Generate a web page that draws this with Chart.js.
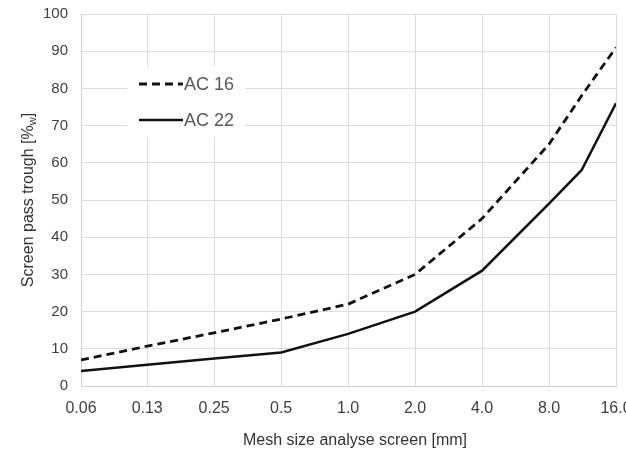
<!DOCTYPE html>
<html>
<head>
<meta charset="utf-8">
<script src="https://cdn.jsdelivr.net/npm/chart.js@4.4.1/dist/chart.umd.min.js"></script>
<style>
  html, body { margin: 0; padding: 0; background: #fff; overflow: hidden; }
  #wrap { width: 626px; height: 450px; overflow: hidden; position: relative; }
  canvas { position: absolute; left: 0; top: 0; }
</style>
</head>
<body>
<div id="wrap"><canvas id="c" width="640" height="450"></canvas></div>
<script>
// ---- data ----
const meshSizes = [0.063, 0.125, 0.25, 0.5, 1, 2, 4, 8, 11.2, 16];
const ac16 = [7, 10.7, 14.3, 18, 22, 30, 45, 65, 78, 91];
const ac22 = [4, 5.7, 7.4, 9, 14, 20, 31, 49, 58, 76];
const seriesNames = ['AC 16', 'AC 22'];
const tickValues = [0.063, 0.125, 0.25, 0.5, 1, 2, 4, 8, 16];
const tickLabels = ['0.06', '0.13', '0.25', '0.5', '1.0', '2.0', '4.0', '8.0', '16.0'];
const xTitle = 'Mesh size analyse screen [mm]';
const yTitleMain = 'Screen pass trough [%';
const yTitleSub = 'w';
const yTitleEnd = ']';

const FONT = '"Liberation Sans", Arial, sans-serif';

function pts(vals) { return meshSizes.map((m, i) => ({ x: m, y: vals[i] })); }

const overlay = {
  id: 'overlay',
  afterDatasetsDraw(chart) {
    const ctx = chart.ctx;
    ctx.save();
    // legend box (inside plot)
    ctx.fillStyle = '#ffffff';
    ctx.fillRect(127, 67, 118, 70);
    const rows = [84, 120];
    chart.data.datasets.forEach((ds, i) => {
      const y = rows[i];
      ctx.strokeStyle = ds.borderColor;
      ctx.lineWidth = ds.borderWidth;
      ctx.setLineDash(ds.borderDash || []);
      ctx.beginPath();
      ctx.moveTo(139, y);
      ctx.lineTo(183, y);
      ctx.stroke();
      ctx.setLineDash([]);
      ctx.fillStyle = '#595959';
      ctx.font = '18px ' + FONT;
      ctx.textAlign = 'left';
      ctx.textBaseline = 'middle';
      ctx.fillText(ds.label, 184, y + 1);
    });
    ctx.restore();
  },
  afterDraw(chart) {
    const ctx = chart.ctx;
    const ca = chart.chartArea;
    ctx.save();
    ctx.fillStyle = '#333333';
    // x title
    ctx.font = '16px ' + FONT;
    ctx.textAlign = 'center';
    ctx.textBaseline = 'middle';
    ctx.fillText(xTitle, 355, 441);
    // y title with subscript
    ctx.translate(29, (ca.top + ca.bottom) / 2);
    ctx.rotate(-Math.PI / 2);
    const fMain = '16px ' + FONT, fSub = '11px ' + FONT;
    ctx.font = fMain;
    const w1 = ctx.measureText(yTitleMain).width;
    const w3 = ctx.measureText(yTitleEnd).width;
    ctx.font = fSub;
    const w2 = ctx.measureText(yTitleSub).width;
    const total = w1 + w2 + w3;
    let x = -total / 2;
    ctx.textAlign = 'left';
    ctx.font = fMain;
    ctx.fillText(yTitleMain, x, 0); x += w1;
    ctx.font = fSub;
    ctx.fillText(yTitleSub, x, 4); x += w2;
    ctx.font = fMain;
    ctx.fillText(yTitleEnd, x, 0);
    ctx.restore();
  }
};

new Chart(document.getElementById('c'), {
  type: 'line',
  data: {
    datasets: [
      { label: seriesNames[0], data: pts(ac16), borderColor: '#111111', borderWidth: 2.8,
        borderDash: [8, 5], pointRadius: 0, tension: 0, fill: false },
      { label: seriesNames[1], data: pts(ac22), borderColor: '#111111', borderWidth: 2.5,
        pointRadius: 0, tension: 0, fill: false }
    ]
  },
  options: {
    responsive: false,
    maintainAspectRatio: false,
    animation: false,
    devicePixelRatio: 1,
    layout: { padding: { top: 14, right: 24, left: 0, bottom: 0 } },
    plugins: { legend: { display: false }, tooltip: { enabled: false } },
    scales: {
      x: {
        type: 'logarithmic',
        min: meshSizes[0],
        max: meshSizes[meshSizes.length - 1],
        afterBuildTicks(scale) { scale.ticks = tickValues.map(v => ({ value: v })); },
        afterFit(scale) { scale.height = 64; scale.paddingLeft = 0; scale.paddingRight = 0; },
        grid: { color: '#dcdcdc', lineWidth: 1, drawTicks: false },
        border: { color: '#d0d0d0', width: 1 },
        ticks: {
          autoSkip: false, maxRotation: 0, minRotation: 0, padding: 13,
          color: '#404040', font: { family: FONT, size: 16 },
          callback: (v, i) => tickLabels[i]
        }
      },
      y: {
        min: 0, max: 100,
        afterFit(scale) { scale.width = 81; scale.paddingTop = 0; scale.paddingBottom = 0; },
        grid: { color: '#dcdcdc', lineWidth: 1, drawTicks: false },
        border: { color: '#d0d0d0', width: 1 },
        ticks: { stepSize: 10, padding: 13, color: '#404040', font: { family: FONT, size: 15 } }
      }
    }
  },
  plugins: [overlay]
});
</script>
</body>
</html>
